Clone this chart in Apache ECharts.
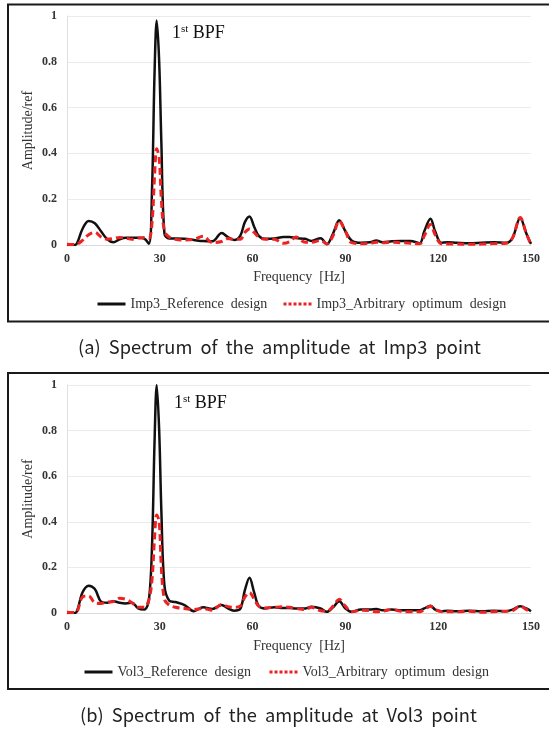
<!DOCTYPE html>
<html>
<head>
<meta charset="utf-8">
<script src="https://cdn.jsdelivr.net/npm/echarts@6/dist/echarts.min.js"></script>
<style>
html,body{margin:0;padding:0;background:#fff;}
#c{width:549px;height:729px;}
</style>
</head>
<body>
<div id="c"></div>
<script>
// Frequency sample points [Hz]
const freq = [0,2,3,5,7,9,11,13,15,17,19,21,23,25,26.5,27.5,28.3,29,29.8,30.5,31.5,33,35,38,41,44,47,50,52,54,56,57.5,59,60.5,62,64,67,70,72,74,77,79,82,84,86,88,90,92,95,98,100,102,105,108,111,114,115.5,117.5,119,121,123,126,130,134,138,142,144,146.5,148.5,150];

// (a) Imp3 point
const imp3Ref = [0,0,0.003,0.07,0.105,0.095,0.06,0.025,0.012,0.025,0.032,0.032,0.032,0.028,0.005,0.25,0.75,0.98,0.8,0.45,0.05,0.028,0.028,0.027,0.022,0.017,0.016,0.052,0.035,0.022,0.04,0.1,0.125,0.08,0.04,0.027,0.028,0.035,0.035,0.03,0.027,0.018,0.03,0.003,0.05,0.108,0.06,0.02,0.01,0.012,0.02,0.012,0.016,0.018,0.018,0.008,0.06,0.115,0.06,0.01,0.012,0.01,0.008,0.01,0.012,0.01,0.03,0.118,0.05,0.005];
const imp3Arb = [0.003,0.002,0.003,0.02,0.045,0.055,0.035,0.025,0.028,0.033,0.03,0.025,0.03,0.033,0.03,0.1,0.3,0.42,0.38,0.2,0.06,0.035,0.025,0.022,0.025,0.038,0.01,0.015,0.028,0.025,0.025,0.055,0.07,0.055,0.035,0.025,0.025,0.008,0.015,0.035,0.012,0.012,0.02,0.005,0.04,0.105,0.06,0.01,0.006,0.008,0.012,0.01,0.012,0.01,0.008,0.005,0.04,0.09,0.045,0.005,0.004,0.004,0.003,0.004,0.006,0.008,0.03,0.12,0.05,0];

// (b) Vol3 point
const vol3Ref = [0,0,0.003,0.09,0.12,0.105,0.05,0.045,0.052,0.045,0.042,0.045,0.02,0.015,0.06,0.3,0.75,1.0,0.8,0.45,0.12,0.055,0.048,0.035,0.008,0.025,0.018,0.035,0.02,0.01,0.018,0.1,0.155,0.09,0.03,0.02,0.025,0.022,0.022,0.02,0.02,0.027,0.02,0.005,0.025,0.052,0.02,0.005,0.015,0.015,0.018,0.012,0.015,0.012,0.012,0.012,0.02,0.032,0.015,0.008,0.01,0.008,0.01,0.008,0.01,0.008,0.015,0.03,0.02,0.008];
const vol3Arb = [0.003,0.002,0.003,0.07,0.075,0.045,0.042,0.048,0.05,0.065,0.06,0.045,0.025,0.025,0.06,0.15,0.33,0.43,0.4,0.2,0.06,0.035,0.025,0.02,0.015,0.02,0.012,0.038,0.028,0.025,0.03,0.07,0.09,0.06,0.03,0.022,0.025,0.027,0.025,0.02,0.015,0.025,0.01,0.008,0.03,0.06,0.03,0.005,0.012,0.01,0.005,0.008,0.015,0.008,0.005,0.005,0.015,0.03,0.015,0.006,0.005,0.005,0.008,0.003,0.006,0.008,0.01,0.03,0.015,0.005];

const namesA = ['Imp3_Reference design','Imp3_Arbitrary optimum design'];
const namesB = ['Vol3_Reference design','Vol3_Arbitrary optimum design'];
const xTicks = [0,30,60,90,120,150];
const yTicks = [0,0.2,0.4,0.6,0.8,1];
const captions = ['(a)  Spectrum  of  the  amplitude  at  Imp3  point','(b)  Spectrum  of  the  amplitude  at  Vol3  point'];

const serif = 'Liberation Serif, Times New Roman, serif';
const pair = (ys) => freq.map((f, i) => [f, ys[i]]);

const chart = echarts.init(document.getElementById('c'), null, {renderer: 'canvas'});

function xAxis(gi, gap) {
  return {
    type: 'value', gridIndex: gi, min: 0, max: 150, interval: 30,
    name: 'Frequency  [Hz]', nameLocation: 'middle', nameGap: gap, nameMoveOverlap: false,
    nameTextStyle: {fontFamily: serif, fontSize: 14, color: '#333'},
    axisLine: {show: true, lineStyle: {color: '#d9d9d9', width: 1}},
    axisTick: {show: false},
    splitLine: {show: false},
    axisLabel: {fontFamily: serif, fontWeight: 'bold', fontSize: 12, color: '#333', margin: 8}
  };
}
function yAxis(gi) {
  return {
    type: 'value', gridIndex: gi, min: 0, max: 1, interval: 0.2,
    name: 'Amplitude/ref', nameLocation: 'middle', nameGap: 32, nameMoveOverlap: false,
    nameTextStyle: {fontFamily: serif, fontSize: 14, color: '#333'},
    axisLine: {show: true, lineStyle: {color: '#e0e0e0', width: 1}},
    axisTick: {show: false},
    splitLine: {show: true, lineStyle: {color: '#ebebeb', width: 1}},
    axisLabel: {fontFamily: serif, fontWeight: 'bold', fontSize: 12, color: '#333', margin: 10,
      formatter: v => String(Math.round(v * 10) / 10)}
  };
}
function refSeries(name, gi, ys) {
  return {name, type: 'line', xAxisIndex: gi, yAxisIndex: gi, data: pair(ys), smooth: 0.35,
    symbol: 'none', lineStyle: {color: '#111', width: 2.5}, itemStyle: {color: '#111'}, z: 2};
}
function arbSeries(name, gi, ys) {
  return {name, type: 'line', xAxisIndex: gi, yAxisIndex: gi, data: pair(ys), smooth: 0.35,
    symbol: 'none', lineStyle: {color: '#ee2222', width: 3, type: [7, 4]}, itemStyle: {color: '#ee2222'}, z: 3};
}
function legend(name, left, top, dotted) {
  return {
    data: [name], left, top, itemWidth: 28, itemHeight: 14,
    itemStyle: {opacity: 0, color: 'rgba(0,0,0,0)', borderColor: 'rgba(0,0,0,0)', borderWidth: 0},
    lineStyle: dotted ? {type: [3, 2], width: 3} : {width: 3},
    formatter: n => n.replace(/ /g, '  '),
    textStyle: {fontFamily: serif, fontSize: 14, color: '#333'}
  };
}
const bpf = (left, top) => ({type: 'text', left, top, style: {
  text: '{a|1}{b|st}{a| BPF}',
  rich: {a: {fontFamily: serif, fontSize: 18, fill: '#111'},
         b: {fontFamily: serif, fontSize: 11, fill: '#111', verticalAlign: 'top', padding: [0, 0, 8, 0]}}
}});

const option = {
  backgroundColor: '#fff',
  animation: false,
  grid: [
    {left: 67, right: 18, top: 16, height: 229, containLabel: false},
    {left: 67, right: 18, top: 385, height: 228, containLabel: false}
  ],
  xAxis: [xAxis(0, 25), xAxis(1, 26)],
  yAxis: [yAxis(0), yAxis(1)],
  legend: [
    legend(namesA[0], 91, 292, false),
    legend(namesA[1], 277, 292, true),
    legend(namesB[0], 78, 660, false),
    legend(namesB[1], 263, 660, true)
  ],
  series: [
    refSeries(namesA[0], 0, imp3Ref),
    arbSeries(namesA[1], 0, imp3Arb),
    refSeries(namesB[0], 1, vol3Ref),
    arbSeries(namesB[1], 1, vol3Arb)
  ],
  graphic: [
    {type: 'rect', shape: {x: 8, y: 4.5, width: 560, height: 317}, style: {fill: 'none', stroke: '#1a1a1a', lineWidth: 2}, silent: true},
    {type: 'rect', shape: {x: 8, y: 373, width: 560, height: 316}, style: {fill: 'none', stroke: '#1a1a1a', lineWidth: 2}, silent: true},
    bpf(172, 24),
    bpf(174, 394),
    {type: 'text', left: 78, top: 338, style: {text: captions[0], font: '18.3px "Noto Sans CJK KR", "Noto Sans", sans-serif', fill: '#222'}},
    {type: 'text', left: 80, top: 706, style: {text: captions[1], font: '18.3px "Noto Sans CJK KR", "Noto Sans", sans-serif', fill: '#222'}}
  ]
};
chart.setOption(option);
</script>
</body>
</html>
